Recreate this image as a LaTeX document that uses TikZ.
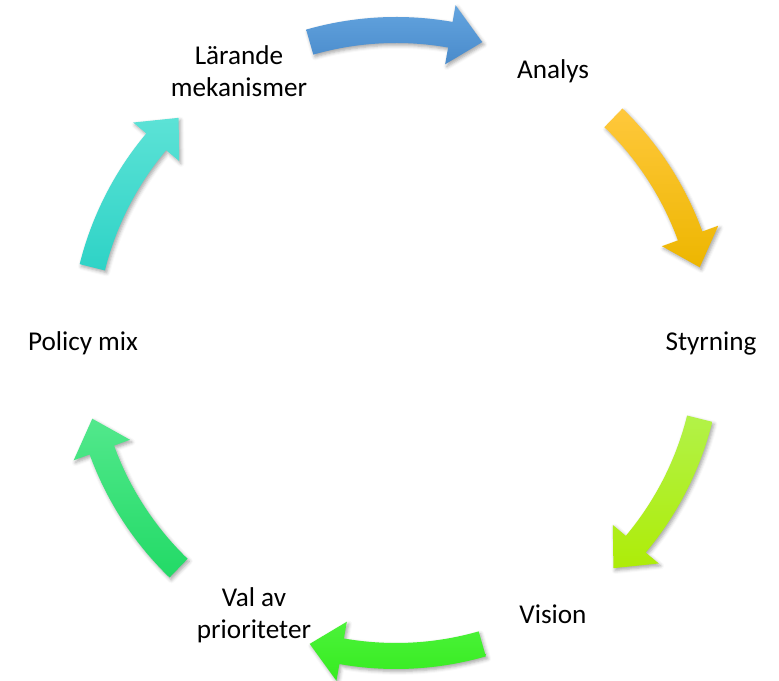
\documentclass[tikz,border=0pt]{standalone}
\usepackage{fontspec}
\setmainfont{Carlito}
\usetikzlibrary{shadows.blur}

\definecolor{blueT}{HTML}{63A4DF}
\definecolor{blueB}{HTML}{4A8BCB}
\definecolor{goldT}{HTML}{FFC83C}
\definecolor{goldB}{HTML}{EDB600}
\definecolor{limeT}{HTML}{B2F248}
\definecolor{limeB}{HTML}{AEEC08}
\definecolor{greenT}{HTML}{4CF23A}
\definecolor{greenB}{HTML}{36EC20}
\definecolor{mintT}{HTML}{52E88C}
\definecolor{mintB}{HTML}{22DA66}
\definecolor{tealT}{HTML}{5CE2D6}
\definecolor{tealB}{HTML}{2ED3C6}

\begin{document}
\begin{tikzpicture}[x=0.3mm,y=0.3mm,
		lbl/.style={font=\fontsize{23.2}{27}\selectfont,align=center,inner sep=0pt},
		shd/.style={blur shadow={shadow xshift=1.5pt,shadow yshift=-2pt,shadow opacity=35,shadow blur radius=3pt}}]
		\useasboundingbox (-396,-338) rectangle (383,343);
		% curved arrows, clockwise, centred on the circle
		\foreach \c/\ct/\cb in {90/blueT/blueB,30/goldT/goldB,-30/limeT/limeB,-90/greenT/greenB,-150/mintT/mintB,150/tealT/tealB}{
			\pgfmathsetmacro\a{\c+16}
			\pgfmathsetmacro\b{\c-16}
			\pgfmathsetmacro\h{\c-10}
			\path[shd,top color=\ct,bottom color=\cb] (\a:300) arc[start angle=\a,end angle=\h,radius=300] -- (\h:283) -- (\b:313) -- (\h:343) -- (\h:326) arc[start angle=\h,end angle=\a,radius=326] -- cycle;
		}
		\node[lbl] (analys) at (157,272) {Analys};
		\node[lbl] (styrning) at (315,0) {Styrning};
		\node[lbl] (vision) at (157,-271) {Vision};
		\node[lbl] (prioriteter) at (-142,-272) {Val av\\prioriteter};
		\node[lbl] (policy) at (-313,0) {Policy mix};
		\node[lbl] (larande) at (-157,272) {Lärande\\mekanismer};
	\end{tikzpicture}
\end{document}
